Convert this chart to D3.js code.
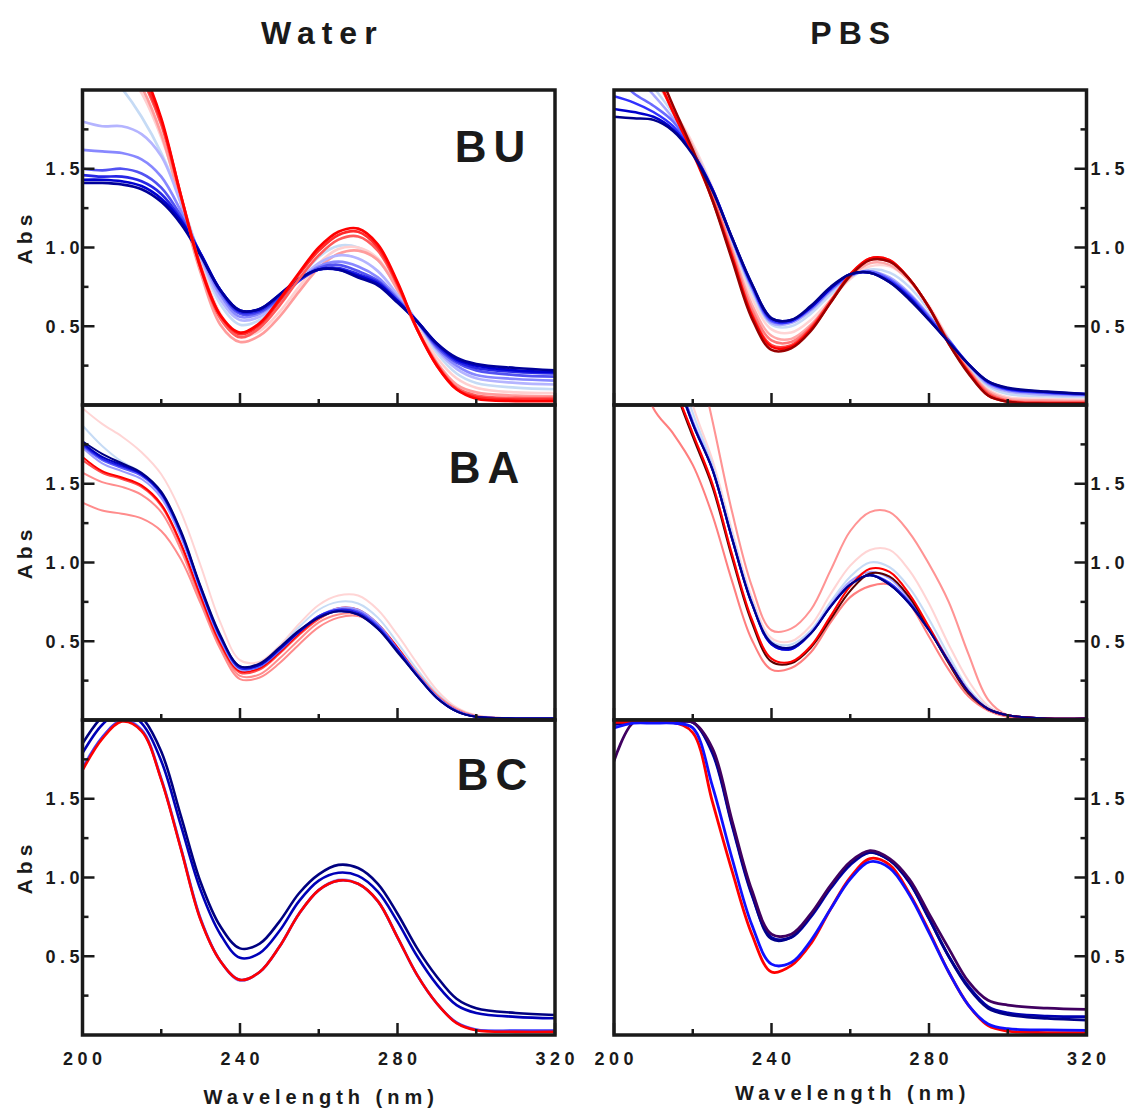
<!DOCTYPE html>
<html><head><meta charset="utf-8">
<script src="https://cdn.jsdelivr.net/npm/d3@7"></script>
<style>
html,body{margin:0;padding:0;background:#fff;}
svg{display:block;font-family:"Liberation Sans",Arial,sans-serif;}
</style></head><body>
<svg id="chart" width="1130" height="1112"></svg>
<script>
// ---------- data ----------
const wavelengths = [200,205,210,215,220,225,230,235,240,245,250,255,260,265,270,275,280,285,290,295,300,310,320];
const columnTitles = ["Water", "PBS"];
const rowLabels = ["BU", "BA", "BC"];
const yMajorTicks = [0.5, 1.0, 1.5];
const yMinorTicks = [0.25, 0.75, 1.25, 1.75];
const xMajorTicks = [200, 240, 280, 320];
const xMinorTicks = [220, 260, 300];
const xTitle = "Wavelength (nm)";
const yTitle = "Abs";

// Water – BU
const waterBUColors = ["#c6dbf5","#ffd0d0","#ff9c9c","#b4b4ff","#8888ff","#5252f2","#2626e6","#0000d0","#00009a","#ff5a5a","#ff2a2a","#ff0000"];
const waterBU = [
  [2.3,2.15,2.01,1.83,1.60,1.30,0.93,0.64,0.51,0.54,0.65,0.80,0.94,1.01,1.00,0.92,0.74,0.52,0.33,0.20,0.14,0.11,0.10],
  [2.5,2.3,2.15,1.98,1.70,1.32,0.90,0.58,0.44,0.47,0.59,0.75,0.90,0.99,1.00,0.93,0.74,0.50,0.30,0.17,0.11,0.08,0.075],
  [2.6,2.4,2.2,2.02,1.72,1.28,0.84,0.51,0.40,0.44,0.56,0.72,0.87,0.96,0.98,0.92,0.73,0.48,0.27,0.13,0.08,0.06,0.055],
  [1.80,1.77,1.77,1.72,1.58,1.28,0.94,0.67,0.54,0.56,0.66,0.79,0.90,0.95,0.93,0.85,0.70,0.53,0.35,0.23,0.17,0.14,0.13],
  [1.62,1.61,1.60,1.56,1.45,1.23,0.95,0.70,0.56,0.58,0.67,0.79,0.88,0.91,0.88,0.81,0.68,0.53,0.36,0.25,0.19,0.165,0.155],
  [1.50,1.49,1.50,1.47,1.38,1.20,0.96,0.72,0.58,0.59,0.68,0.79,0.87,0.89,0.85,0.79,0.67,0.53,0.37,0.27,0.22,0.19,0.18],
  [1.46,1.45,1.45,1.42,1.34,1.18,0.96,0.73,0.59,0.60,0.69,0.79,0.86,0.87,0.83,0.78,0.66,0.53,0.38,0.28,0.235,0.21,0.20],
  [1.43,1.43,1.42,1.39,1.31,1.17,0.96,0.73,0.60,0.61,0.70,0.80,0.86,0.86,0.82,0.77,0.66,0.53,0.39,0.29,0.25,0.22,0.21],
  [1.41,1.41,1.40,1.37,1.29,1.15,0.95,0.73,0.60,0.61,0.70,0.80,0.86,0.86,0.81,0.76,0.65,0.53,0.39,0.30,0.26,0.235,0.22],
  [2.7,2.5,2.3,2.08,1.78,1.32,0.87,0.55,0.43,0.49,0.63,0.80,0.95,1.05,1.07,0.98,0.76,0.48,0.26,0.11,0.06,0.045,0.045],
  [2.8,2.6,2.35,2.1,1.80,1.33,0.88,0.57,0.45,0.51,0.66,0.83,0.98,1.08,1.10,1.00,0.77,0.48,0.25,0.10,0.05,0.035,0.035],
  [2.9,2.65,2.4,2.15,1.82,1.33,0.87,0.57,0.46,0.52,0.67,0.84,1.00,1.10,1.12,1.02,0.78,0.48,0.25,0.10,0.04,0.025,0.025]
];

// PBS – BU
const pbsBUColors = ["#ffd5d5","#c6d9f5","#a8a8ff","#ffa8a8","#ff7878","#6a6aff","#3030ff","#0000cd","#ff4040","#ff0000","#990000","#00008b"];
const pbsBU = [
  [2.5,2.3,2.08,1.88,1.66,1.38,1.02,0.68,0.48,0.46,0.54,0.67,0.80,0.88,0.88,0.79,0.63,0.42,0.24,0.10,0.05,0.04,0.035],
  [2.4,2.2,2.02,1.85,1.64,1.37,1.04,0.72,0.51,0.50,0.58,0.70,0.81,0.86,0.84,0.75,0.60,0.42,0.25,0.12,0.07,0.055,0.05],
  [2.3,2.1,1.97,1.82,1.62,1.37,1.05,0.74,0.52,0.52,0.60,0.72,0.82,0.85,0.81,0.71,0.57,0.41,0.26,0.13,0.085,0.065,0.06],
  [2.6,2.35,2.1,1.88,1.64,1.35,0.99,0.64,0.44,0.42,0.51,0.66,0.81,0.90,0.89,0.79,0.62,0.41,0.23,0.09,0.04,0.03,0.025],
  [2.65,2.4,2.12,1.87,1.62,1.33,0.97,0.61,0.41,0.40,0.50,0.66,0.82,0.92,0.91,0.80,0.62,0.40,0.22,0.08,0.03,0.02,0.02],
  [2.1,1.98,1.90,1.80,1.61,1.37,1.05,0.75,0.53,0.53,0.61,0.73,0.82,0.85,0.80,0.70,0.56,0.41,0.26,0.14,0.095,0.075,0.065],
  [1.96,1.92,1.86,1.77,1.60,1.37,1.06,0.76,0.54,0.53,0.62,0.74,0.83,0.84,0.79,0.69,0.55,0.41,0.26,0.145,0.10,0.08,0.068],
  [1.88,1.86,1.83,1.75,1.60,1.37,1.06,0.77,0.55,0.54,0.62,0.74,0.83,0.84,0.78,0.68,0.54,0.40,0.26,0.15,0.105,0.082,0.07],
  [2.7,2.42,2.13,1.86,1.61,1.31,0.95,0.58,0.38,0.38,0.49,0.66,0.83,0.93,0.92,0.80,0.62,0.40,0.21,0.07,0.025,0.015,0.015],
  [2.7,2.45,2.15,1.86,1.60,1.30,0.94,0.57,0.37,0.37,0.48,0.65,0.83,0.93,0.92,0.80,0.62,0.39,0.21,0.06,0.02,0.01,0.01],
  [2.8,2.5,2.2,1.90,1.62,1.30,0.92,0.55,0.35,0.36,0.47,0.65,0.82,0.92,0.91,0.80,0.62,0.39,0.20,0.06,0.02,0.01,0.01],
  [1.83,1.82,1.81,1.74,1.59,1.36,1.06,0.77,0.55,0.54,0.63,0.75,0.83,0.84,0.78,0.67,0.54,0.40,0.26,0.15,0.11,0.085,0.07]
];

// Water – BA
const waterBAColors = ["#ffd5d5","#c6dbf5","#ff8c8c","#ff8c8c","#ff4a4a","#ff0000","#9a9aff","#5a5aff","#2020e6","#0000c0","#000080"];
const waterBA = [
  [1.98,1.88,1.80,1.70,1.56,1.32,0.98,0.62,0.38,0.37,0.47,0.61,0.73,0.79,0.79,0.70,0.54,0.36,0.19,0.08,0.03,0.01,0.01],
  [1.87,1.74,1.64,1.57,1.45,1.20,0.85,0.54,0.34,0.35,0.46,0.59,0.70,0.75,0.74,0.65,0.49,0.32,0.17,0.07,0.025,0.01,0.01],
  [1.38,1.33,1.31,1.28,1.20,1.02,0.74,0.45,0.26,0.27,0.36,0.48,0.59,0.65,0.66,0.59,0.46,0.30,0.16,0.07,0.025,0.01,0.01],
  [1.57,1.51,1.48,1.43,1.32,1.08,0.76,0.47,0.28,0.29,0.39,0.51,0.62,0.67,0.67,0.59,0.45,0.29,0.15,0.065,0.02,0.01,0.01],
  [1.65,1.57,1.53,1.48,1.36,1.11,0.78,0.48,0.30,0.32,0.42,0.54,0.64,0.70,0.69,0.60,0.45,0.29,0.15,0.06,0.02,0.01,0.01],
  [1.67,1.58,1.54,1.49,1.37,1.12,0.79,0.49,0.31,0.33,0.43,0.55,0.65,0.71,0.70,0.61,0.46,0.29,0.15,0.06,0.02,0.01,0.01],
  [1.73,1.63,1.58,1.53,1.41,1.16,0.82,0.51,0.32,0.34,0.44,0.56,0.66,0.71,0.70,0.61,0.45,0.29,0.15,0.06,0.02,0.01,0.01],
  [1.74,1.65,1.60,1.55,1.43,1.18,0.83,0.52,0.33,0.34,0.44,0.56,0.66,0.70,0.69,0.60,0.45,0.29,0.145,0.06,0.02,0.01,0.01],
  [1.75,1.66,1.61,1.56,1.44,1.19,0.84,0.53,0.33,0.35,0.45,0.56,0.66,0.70,0.68,0.59,0.44,0.28,0.14,0.055,0.02,0.01,0.01],
  [1.76,1.67,1.62,1.56,1.44,1.19,0.84,0.53,0.34,0.35,0.45,0.56,0.65,0.69,0.67,0.58,0.44,0.28,0.14,0.055,0.02,0.01,0.01],
  [1.77,1.69,1.63,1.57,1.45,1.20,0.85,0.54,0.34,0.36,0.46,0.57,0.65,0.69,0.67,0.58,0.43,0.28,0.14,0.055,0.02,0.01,0.01]
];

// PBS – BA
const pbsBAColors = ["#ff9494","#ffd5d5","#c6dbf5","#a0a0ff","#ff7f7f","#3c3cff","#0000cd","#5a0000","#ff0000","#00008b"];
const pbsBA = [
  [4.0,3.8,3.4,2.9,2.45,1.90,1.32,0.85,0.57,0.58,0.70,0.95,1.20,1.32,1.32,1.19,0.99,0.75,0.42,0.13,0.03,0.01,0.01],
  [4.0,3.6,3.1,2.5,2.0,1.65,1.20,0.78,0.52,0.50,0.60,0.80,0.98,1.08,1.08,0.95,0.74,0.48,0.25,0.09,0.03,0.01,0.01],
  [3.7,3.3,2.9,2.35,1.95,1.62,1.18,0.76,0.50,0.48,0.57,0.75,0.91,1.00,0.97,0.84,0.64,0.41,0.20,0.08,0.03,0.01,0.01],
  [3.6,3.2,2.8,2.28,1.90,1.60,1.16,0.75,0.49,0.46,0.56,0.73,0.88,0.94,0.90,0.77,0.59,0.38,0.19,0.07,0.03,0.01,0.01],
  [2.8,2.4,1.98,1.82,1.62,1.30,0.88,0.51,0.32,0.33,0.43,0.62,0.78,0.85,0.86,0.74,0.53,0.32,0.15,0.06,0.02,0.01,0.01],
  [3.5,3.2,2.8,2.26,1.89,1.59,1.15,0.74,0.48,0.45,0.55,0.72,0.86,0.92,0.87,0.75,0.58,0.37,0.18,0.07,0.03,0.01,0.01],
  [3.5,3.2,2.8,2.25,1.88,1.59,1.15,0.74,0.48,0.45,0.55,0.72,0.86,0.92,0.86,0.74,0.57,0.37,0.18,0.07,0.03,0.01,0.01],
  [3.3,3.0,2.6,2.14,1.80,1.48,1.03,0.62,0.37,0.36,0.46,0.64,0.82,0.93,0.91,0.78,0.58,0.36,0.17,0.07,0.03,0.01,0.01],
  [3.3,3.0,2.6,2.15,1.82,1.50,1.05,0.64,0.39,0.37,0.47,0.66,0.85,0.96,0.94,0.80,0.59,0.37,0.18,0.07,0.03,0.01,0.01],
  [3.5,3.2,2.8,2.25,1.88,1.59,1.15,0.74,0.49,0.46,0.55,0.72,0.86,0.92,0.86,0.74,0.57,0.37,0.18,0.07,0.03,0.01,0.01]
];

// Water – BC
const waterBCColors = ["#a8a8ff","#3a3aff","#ff0000","#0000b8","#000080"];
const waterBC = [
  [1.70,1.89,2.0,1.94,1.63,1.19,0.74,0.47,0.345,0.40,0.56,0.77,0.92,0.985,0.96,0.85,0.62,0.38,0.20,0.08,0.035,0.025,0.025],
  [1.69,1.89,1.995,1.935,1.625,1.185,0.735,0.47,0.35,0.40,0.56,0.77,0.92,0.98,0.96,0.85,0.62,0.38,0.20,0.078,0.033,0.028,0.028],
  [1.68,1.88,1.99,1.93,1.62,1.18,0.73,0.47,0.35,0.40,0.56,0.77,0.92,0.98,0.96,0.85,0.62,0.38,0.20,0.075,0.03,0.02,0.02],
  [1.79,1.97,2.06,1.98,1.74,1.33,0.92,0.64,0.49,0.52,0.66,0.85,0.98,1.03,1.01,0.91,0.72,0.50,0.32,0.19,0.14,0.115,0.106],
  [1.85,2.02,2.1,2.02,1.80,1.39,0.97,0.69,0.55,0.58,0.72,0.90,1.02,1.08,1.06,0.96,0.77,0.55,0.37,0.23,0.17,0.14,0.127]
];

// PBS – BC
const pbsBCColors = ["#0000b0","#00008b","#400060","#ff0000","#1010ff"];
const pbsBC = [
  [1.98,1.985,1.985,1.985,1.985,1.79,1.33,0.89,0.62,0.62,0.75,0.93,1.08,1.16,1.11,0.97,0.74,0.50,0.31,0.18,0.14,0.12,0.116],
  [1.97,1.985,1.985,1.985,1.985,1.80,1.34,0.90,0.61,0.62,0.76,0.94,1.09,1.16,1.11,0.97,0.74,0.50,0.30,0.17,0.13,0.105,0.095],
  [1.74,1.985,1.985,1.985,1.985,1.82,1.36,0.92,0.64,0.64,0.77,0.95,1.10,1.17,1.12,0.99,0.77,0.55,0.34,0.22,0.19,0.17,0.163],
  [1.985,1.985,1.985,1.985,1.92,1.48,1.04,0.64,0.40,0.44,0.58,0.80,1.00,1.12,1.08,0.90,0.66,0.40,0.19,0.06,0.025,0.015,0.015],
  [1.95,1.98,1.98,1.98,1.95,1.58,1.12,0.70,0.45,0.46,0.60,0.80,0.99,1.10,1.06,0.89,0.65,0.40,0.19,0.07,0.04,0.032,0.03]
];

// ---------- layout ----------
const W = 472.5, H = 315;
const colX = [82.5, 614];
const rowY = [90, 405, 720];
const ink = "#1a1a1a";

const panels = [
  {series: waterBU, colors: waterBUColors, col: 0, row: 0, width: 2.7},
  {series: pbsBU,   colors: pbsBUColors,   col: 1, row: 0, width: 2.5},
  {series: waterBA, colors: waterBAColors, col: 0, row: 1, width: 2.0},
  {series: pbsBA,   colors: pbsBAColors,   col: 1, row: 1, width: 2.1},
  {series: waterBC, colors: waterBCColors, col: 0, row: 2, width: 2.6},
  {series: pbsBC,   colors: pbsBCColors,   col: 1, row: 2, width: 2.8}
];

const svg = d3.select("#chart");
const x = d3.scaleLinear().domain([200, 320]).range([0, W]);
const y = d3.scaleLinear().domain([0, 2]).range([H, 0]);
const line = d3.line()
  .x((d, i) => x(wavelengths[i]))
  .y(d => y(d))
  .curve(d3.curveCatmullRom.alpha(0.5));

// letter-spaced text without trailing space: one tspan per character
function spaced(sel, str, ls) {
  sel.selectAll("tspan").data([...String(str)]).join("tspan")
    .attr("dx", (d, i) => i ? ls : 0)
    .text(d => d);
  return sel;
}

const tickLS = 4.5;
const tickFS = "18px";

panels.forEach((p, k) => {
  const g = svg.append("g").attr("transform", `translate(${colX[p.col]},${rowY[p.row]})`);
  const clipId = "clip" + k;
  g.append("clipPath").attr("id", clipId)
    .append("rect").attr("x", 0).attr("y", 0).attr("width", W).attr("height", H);
  const lg = g.append("g").attr("clip-path", `url(#${clipId})`);
  lg.selectAll("path").data(p.series).join("path")
    .attr("d", d => line(d))
    .attr("fill", "none")
    .attr("stroke", (d, i) => p.colors[i])
    .attr("stroke-width", p.width)
    .attr("stroke-linejoin", "round")
    .attr("stroke-linecap", "round");

  // frame
  g.append("rect").attr("x", 0).attr("y", 0).attr("width", W).attr("height", H)
    .attr("fill", "none").attr("stroke", ink).attr("stroke-width", 3.5);

  // x ticks (inward from bottom)
  g.selectAll(".xmaj").data(xMajorTicks).join("line")
    .attr("class", "xmaj")
    .attr("x1", d => x(d)).attr("x2", d => x(d))
    .attr("y1", H).attr("y2", H - 12)
    .attr("stroke", ink).attr("stroke-width", 2.5);
  g.selectAll(".xmin").data(xMinorTicks).join("line")
    .attr("class", "xmin")
    .attr("x1", d => x(d)).attr("x2", d => x(d))
    .attr("y1", H).attr("y2", H - 6)
    .attr("stroke", ink).attr("stroke-width", 2.5);

  // y ticks
  const ax = p.col === 0 ? 0 : W;
  const dir = p.col === 0 ? 1 : -1;
  g.selectAll(".ymaj").data(yMajorTicks).join("line")
    .attr("class", "ymaj")
    .attr("x1", ax - dir * 1).attr("x2", ax + dir * 12)
    .attr("y1", d => y(d)).attr("y2", d => y(d))
    .attr("stroke", ink).attr("stroke-width", 2.5);
  g.selectAll(".ymin").data(yMinorTicks).join("line")
    .attr("class", "ymin")
    .attr("x1", ax).attr("x2", ax + dir * 6)
    .attr("y1", d => y(d)).attr("y2", d => y(d))
    .attr("stroke", ink).attr("stroke-width", 2.5);

  // y tick labels
  g.selectAll(".ylab").data(yMajorTicks).join("text")
    .attr("class", "ylab")
    .attr("x", p.col === 0 ? -3 : W + 4)
    .attr("y", d => y(d))
    .attr("dy", "0.36em")
    .attr("text-anchor", p.col === 0 ? "end" : "start")
    .style("font-size", tickFS).style("font-weight", "bold")
    .attr("fill", ink)
    .each(function(d) { spaced(d3.select(this), d3.format(".1f")(d), tickLS); });

  if (p.col === 0) {
    // y title
    spaced(g.append("text")
      .attr("transform", `translate(${-51},${H / 2 - 8}) rotate(-90)`)
      .attr("text-anchor", "middle")
      .style("font-size", "21px").style("font-weight", "bold")
      .attr("fill", ink), yTitle, 5);
    // panel label
    const labPos = [[490, 71.7], [484, 78.3], [492, 70]][p.row];
    spaced(g.append("text")
      .attr("x", labPos[0] - colX[0]).attr("y", labPos[1])
      .attr("text-anchor", "middle")
      .style("font-size", "44px").style("font-weight", "bold")
      .attr("fill", ink), rowLabels[p.row], 7);
  }

  // x labels on bottom row
  if (p.row === 2) {
    g.selectAll(".xlab").data(xMajorTicks).join("text")
      .attr("class", "xlab")
      .attr("x", d => x(d))
      .attr("y", H + 30)
      .attr("text-anchor", "middle")
      .style("font-size", tickFS).style("font-weight", "bold")
      .attr("fill", ink)
      .each(function(d) { spaced(d3.select(this), d, tickLS); });
    spaced(g.append("text")
      .attr("x", W / 2)
      .attr("y", H + (p.col === 0 ? 69 : 65))
      .attr("text-anchor", "middle")
      .style("font-size", "20px").style("font-weight", "bold")
      .attr("fill", ink), xTitle, 5);
  }

  // column titles
  if (p.row === 0) {
    spaced(g.append("text")
      .attr("x", W / 2)
      .attr("y", -46)
      .attr("text-anchor", "middle")
      .style("font-size", "32px").style("font-weight", "bold")
      .attr("fill", ink), columnTitles[p.col], 7);
  }
});
</script>
</body></html>
